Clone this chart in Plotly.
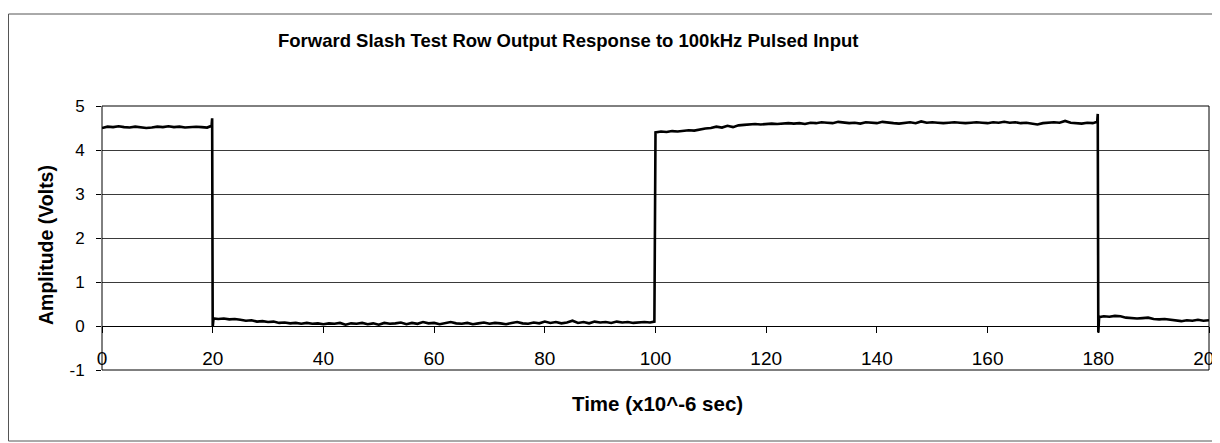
import plotly.graph_objects as go

# ---- data (time in microseconds, amplitude in volts) ----
t_high1 = [0, 1, 2, 3, 4, 5, 6, 7, 8, 9, 10, 11, 12, 13, 14, 15, 16, 17, 18, 19, 19.8, 19.9]
v_high1 = [4.50, 4.53, 4.52, 4.54, 4.52, 4.51, 4.53, 4.52, 4.50, 4.51, 4.53, 4.52, 4.54,
           4.52, 4.53, 4.51, 4.52, 4.53, 4.52, 4.51, 4.55, 4.72]

t_low1 = [20.0, 20.15, 21, 22, 23, 24, 25, 26, 27, 28, 29, 30, 31, 32, 33, 34, 35, 36, 37, 38, 39,
          40, 41, 42, 43, 44, 45, 46, 47, 48, 49, 50, 51, 52, 53, 54, 55, 56, 57, 58, 59,
          60, 61, 62, 63, 64, 65, 66, 67, 68, 69, 70, 71, 72, 73, 74, 75, 76, 77, 78, 79,
          80, 81, 82, 83, 84, 85, 86, 87, 88, 89, 90, 91, 92, 93, 94, 95, 96, 97, 98, 99, 99.8]
v_low1 = [-0.02, 0.17, 0.16, 0.17, 0.15, 0.16, 0.14, 0.12, 0.13, 0.10, 0.11, 0.09, 0.10, 0.07,
          0.08, 0.06, 0.07, 0.05, 0.07, 0.05, 0.06,
          0.04, 0.06, 0.05, 0.07, 0.03, 0.06, 0.05, 0.07, 0.04, 0.06, 0.03, 0.07, 0.05, 0.06,
          0.08, 0.04, 0.07, 0.05, 0.09, 0.06,
          0.07, 0.04, 0.06, 0.09, 0.06, 0.05, 0.07, 0.04, 0.06, 0.08, 0.05, 0.07, 0.06, 0.04,
          0.07, 0.09, 0.06, 0.05, 0.08, 0.06,
          0.10, 0.07, 0.09, 0.06, 0.08, 0.12, 0.07, 0.09, 0.06, 0.10, 0.08, 0.09, 0.07, 0.10,
          0.08, 0.09, 0.07, 0.08, 0.09, 0.08, 0.10]

t_high2 = [100.0, 101, 102, 103, 104, 105, 106, 107, 108, 109, 110, 111, 112, 113, 114, 115, 116,
           117, 118, 119, 120, 121, 122, 123, 124, 125, 126, 127, 128, 129, 130, 131, 132, 133,
           134, 135, 136, 137, 138, 139, 140, 141, 142, 143, 144, 145, 146, 147, 148, 149, 150,
           151, 152, 153, 154, 155, 156, 157, 158, 159, 160, 161, 162, 163, 164, 165, 166, 167,
           168, 169, 170, 171, 172, 173, 174, 175, 176, 177, 178, 179, 179.8, 179.9]
v_high2 = [4.40, 4.42, 4.41, 4.43, 4.42, 4.43, 4.45, 4.44, 4.47, 4.49, 4.50, 4.53, 4.51, 4.55,
           4.52, 4.56, 4.57, 4.58, 4.59, 4.58, 4.59, 4.60, 4.59, 4.60, 4.61, 4.60, 4.61, 4.59,
           4.62, 4.61, 4.63, 4.62, 4.61, 4.64, 4.62, 4.61, 4.62, 4.60, 4.63, 4.62, 4.61, 4.64,
           4.62, 4.61, 4.60, 4.62, 4.63, 4.61, 4.65, 4.62, 4.63, 4.62, 4.61, 4.62, 4.63, 4.62,
           4.61, 4.62, 4.63, 4.62, 4.61, 4.63, 4.62, 4.64, 4.62, 4.63, 4.61, 4.62, 4.60, 4.58,
           4.61, 4.62, 4.63, 4.62, 4.66, 4.62, 4.61, 4.60, 4.62, 4.61, 4.64, 4.82]

t_low2 = [180.0, 180.15, 181, 182, 183, 184, 185, 186, 187, 188, 189, 190, 191, 192, 193, 194,
          195, 196, 197, 198, 199, 200]
v_low2 = [-0.15, 0.20, 0.22, 0.21, 0.23, 0.22, 0.19, 0.18, 0.17, 0.18, 0.19, 0.16, 0.15, 0.16,
          0.14, 0.13, 0.11, 0.13, 0.12, 0.14, 0.12, 0.13]

time = t_high1 + t_low1 + t_high2 + t_low2
amplitude = v_high1 + v_low1 + v_high2 + v_low2

x_ticks = [0, 20, 40, 60, 80, 100, 120, 140, 160, 180, 200]
y_ticks = [-1, 0, 1, 2, 3, 4, 5]

title_text = "Forward Slash Test Row Output Response to 100kHz Pulsed Input"
x_title = "Time (x10^-6 sec)"
y_title = "Amplitude (Volts)"

FONT = "Arial, Liberation Sans, Helvetica, sans-serif"

fig = go.Figure()
fig.add_trace(go.Scatter(x=time, y=amplitude, mode="lines",
                         line=dict(color="black", width=2.6), showlegend=False,
                         hoverinfo="skip"))

# the page body has an 8px margin; figure coordinates = page coordinates - 8
OFF = 8
W, H = 1212, 435
L, R, T, B = 94, 11, 98, 73
pw, ph = W - L - R, H - T - B


def px_x(page_px):
    return (page_px - OFF - L) / pw


def px_y(page_py):
    return (H - B - (page_py - OFF)) / ph


frame_line = dict(color="#555", width=1)
fx0, fx1, fy0, fy1 = px_x(8.5), px_x(1300), px_y(441), px_y(14)

fig.update_layout(
    width=W, height=H,
    margin=dict(l=L, r=R, t=T, b=B, autoexpand=False),
    paper_bgcolor="white", plot_bgcolor="white",
    font=dict(family=FONT, color="black", size=17),
    xaxis=dict(range=[0, 200], tickvals=x_ticks, ticktext=[str(v) for v in x_ticks],
               showgrid=False, zeroline=False, showline=True, linecolor="black", linewidth=1,
               ticks="outside", ticklen=6, tickcolor="black", anchor="free",
               position=1 / 6, ticklabelstandoff=9, tickfont=dict(size=19),
               ticklabeloverflow="allow", automargin=False),
    yaxis=dict(range=[-1, 5], tickvals=y_ticks, ticktext=[str(v) for v in y_ticks],
               showgrid=True, gridcolor="#3a3a3a", gridwidth=1, zeroline=False,
               showline=False, ticks="outside", ticklen=5, tickcolor="black",
               ticklabelstandoff=8, tickfont=dict(size=17), automargin=False),
    shapes=[
        dict(type="rect", xref="paper", yref="paper", x0=0, x1=1, y0=0, y1=1,
             line=dict(color="black", width=1), layer="above"),
        dict(type="line", xref="paper", yref="paper", x0=fx0, x1=fx0, y0=fy0, y1=fy1,
             line=frame_line, layer="below"),
        dict(type="line", xref="paper", yref="paper", x0=fx0, x1=fx1, y0=fy1, y1=fy1,
             line=frame_line, layer="below"),
        dict(type="line", xref="paper", yref="paper", x0=fx0, x1=fx1, y0=fy0, y1=fy0,
             line=frame_line, layer="below"),
    ],
    annotations=[
        dict(text="<b>%s</b>" % title_text, xref="paper", yref="paper",
             x=px_x(568), y=px_y(40), showarrow=False, font=dict(size=18.5),
             xanchor="center", yanchor="middle"),
        dict(text="<b>%s</b>" % x_title, xref="paper", yref="paper",
             x=px_x(657), y=px_y(403), showarrow=False, font=dict(size=20.5),
             xanchor="center", yanchor="middle"),
        dict(text="<b>%s</b>" % y_title, xref="paper", yref="paper",
             x=px_x(46), y=px_y(245), showarrow=False, font=dict(size=19.5), textangle=-90,
             xanchor="center", yanchor="middle"),
    ],
)

fig.write_html("out.html")
